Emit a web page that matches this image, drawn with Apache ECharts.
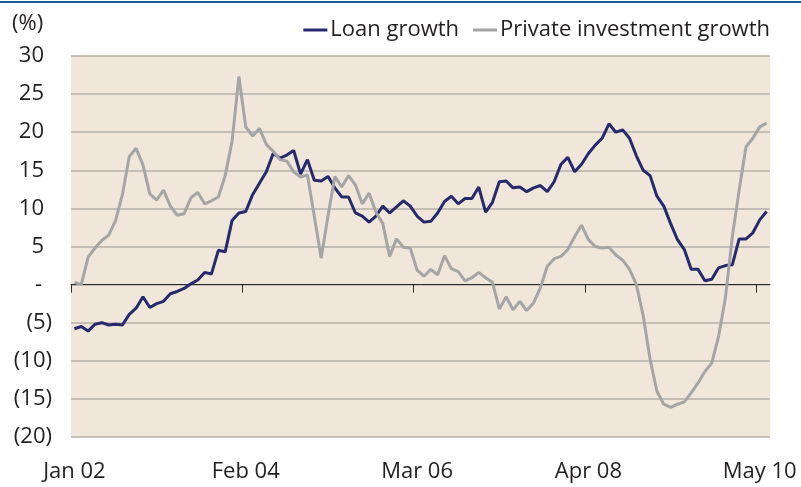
<!DOCTYPE html>
<html>
<head>
<meta charset="utf-8">
<script src="https://cdn.jsdelivr.net/npm/echarts@6/dist/echarts.min.js"></script>
<style>
  html, body { margin: 0; padding: 0; background: #fff; }
  #chart { width: 801px; height: 487px; }
</style>
</head>
<body>
<div id="chart"></div>
<script>
// monthly, Jan 02 .. Jun 10
const monthNames = ['Jan', 'Feb', 'Mar', 'Apr', 'May', 'Jun', 'Jul', 'Aug', 'Sep', 'Oct', 'Nov', 'Dec'];
const startYear = 2;
const monthCount = 102;
const tickLabels = ['Jan 02', 'Feb 04', 'Mar 06', 'Apr 08', 'May 10'];

const loanGrowth = [
  -5.8, -5.5, -6.1, -5.2, -5.0, -5.3, -5.2, -5.3, -3.9, -3.1,
  -1.6, -3.0, -2.5, -2.2, -1.2, -0.9, -0.5, 0.1, 0.6, 1.6,
  1.4, 4.5, 4.3, 8.4, 9.4, 9.6, 11.8, 13.3, 14.8, 17.2,
  16.6, 17.0, 17.6, 14.5, 16.4, 13.7, 13.6, 14.2, 12.7, 11.5,
  11.5, 9.4, 9.0, 8.2, 9.0, 10.3, 9.4, 10.2, 11.0, 10.3,
  9.0, 8.2, 8.3, 9.4, 10.9, 11.6, 10.6, 11.3, 11.3, 12.8,
  9.5, 10.8, 13.5, 13.6, 12.7, 12.8, 12.2, 12.7, 13.0, 12.2,
  13.5, 15.8, 16.7, 14.8, 15.8, 17.2, 18.3, 19.2, 21.1, 20.0,
  20.3, 19.2, 16.9, 15.0, 14.3, 11.6, 10.3, 8.0, 5.9, 4.6,
  2.0, 2.0, 0.5, 0.7, 2.2, 2.5, 2.6, 6.0, 6.0, 6.8,
  8.5, 9.6
];

const privateInvestmentGrowth = [
  0.3, 0.0, 3.6, 4.8, 5.8, 6.5, 8.4, 11.8, 16.8, 17.9,
  15.7, 11.9, 11.1, 12.4, 10.3, 9.1, 9.3, 11.4, 12.1, 10.6,
  11.0, 11.5, 14.3, 18.8, 27.3, 20.7, 19.5, 20.5, 18.4, 17.5,
  16.4, 16.2, 14.8, 14.1, 14.4, 9.0, 3.5, 9.0, 14.2, 12.8,
  14.3, 13.1, 10.6, 12.0, 9.5, 8.0, 3.7, 6.0, 4.9, 4.8,
  1.9, 1.1, 2.0, 1.3, 3.8, 2.1, 1.7, 0.5, 0.9, 1.6,
  0.9, 0.3, -3.2, -1.6, -3.3, -2.2, -3.4, -2.4, -0.4, 2.4,
  3.4, 3.7, 4.6, 6.3, 7.8, 5.9, 5.0, 4.8, 4.9, 3.9,
  3.2, 2.0, 0.0, -4.1, -9.8, -14.0, -15.7, -16.1, -15.7, -15.4,
  -14.2, -12.9, -11.4, -10.3, -6.8, -1.7, 6.3, 12.4, 18.1, 19.2,
  20.7, 21.2
];

const categories = [];
for (let i = 0; i < monthCount; i++) {
  const yy = startYear + Math.floor(i / 12);
  categories.push(monthNames[i % 12] + ' ' + (yy < 10 ? '0' + yy : yy));
}
// month boundaries for the zero-line ticks (one more than the months)
const boundaries = categories.concat(['Jul 10']);

const FONT = '"Open Sans", sans-serif';
const FS = 22;
const TEXT = '#231f20';

const chart = echarts.init(document.getElementById('chart'), null, { renderer: 'canvas' });

const option = {
  animation: false,
  backgroundColor: '#fff',
  textStyle: { fontFamily: FONT },
  graphic: [
    // blue rule across the top
    { type: 'rect', left: 0, top: 1, shape: { width: 801, height: 2 }, style: { fill: '#2159a5' } },
    { type: 'text', left: 12, top: 13, style: { text: '(%)', fontSize: FS, fontFamily: FONT, fill: TEXT } },
  ],
  legend: {
    right: 26,
    top: 14,
    itemWidth: 24,
    itemHeight: 3,
    itemGap: 14,
    icon: 'rect',
    textStyle: { fontSize: FS, color: TEXT, fontFamily: FONT, padding: [0, 0, 0, -2] },
    data: ['Loan growth', 'Private investment growth'],
  },
  grid: {
    left: 71,
    right: 31,
    top: 56,
    bottom: 50,
    show: true,
    backgroundColor: '#f0e6d9',
    borderWidth: 0,
  },
  xAxis: [
    {
      // labels along the bottom
      type: 'category',
      data: categories,
      boundaryGap: true,
      position: 'bottom',
      axisLine: { show: false, onZero: false },
      axisTick: { show: false },
      axisLabel: {
        interval: 24,
        margin: 24,
        fontSize: FS,
        color: TEXT,
        fontFamily: FONT,
        formatter: (v, idx) => tickLabels[idx / 25] || v,
      },
      splitLine: { show: false },
    },
    {
      // zero line with ticks on month boundaries
      type: 'category',
      data: boundaries,
      boundaryGap: false,
      position: 'bottom',
      axisLine: { show: true, onZero: true, lineStyle: { color: '#2b2b2b', width: 1 } },
      axisTick: { show: true, interval: 24, length: 8, lineStyle: { color: '#2b2b2b', width: 1 } },
      axisLabel: { show: false },
      splitLine: { show: false },
    },
  ],
  yAxis: {
    type: 'value',
    min: -20,
    max: 30,
    interval: 5,
    axisLine: { show: false },
    axisTick: { show: false },
    axisLabel: {
      margin: 19,
      fontSize: FS,
      color: TEXT,
      fontFamily: FONT,
      formatter: (v) => {
        if (v === 0) return '{d|-}';
        if (v < 0) return '(' + Math.abs(v) + ')';
        return '{p|' + v + '}';
      },
      rich: {
        p: { fontSize: FS, color: TEXT, fontFamily: FONT, padding: [0, 8, 0, 0] },
        d: { fontSize: FS, color: TEXT, fontFamily: FONT, padding: [0, 10, 0, 0] },
      },
    },
    splitLine: { show: true, lineStyle: { color: '#b7b0a8', width: 1.5 } },
  },
  series: [
    {
      name: 'Loan growth',
      type: 'line',
      data: loanGrowth,
      symbol: 'none',
      lineStyle: { color: '#262a6d', width: 3 },
      itemStyle: { color: '#262a6d' },
    },
    {
      name: 'Private investment growth',
      type: 'line',
      data: privateInvestmentGrowth,
      symbol: 'none',
      lineStyle: { color: '#a5a5a5', width: 3 },
      itemStyle: { color: '#a5a5a5' },
    },
  ],
};

chart.setOption(option);
</script>
</body>
</html>
